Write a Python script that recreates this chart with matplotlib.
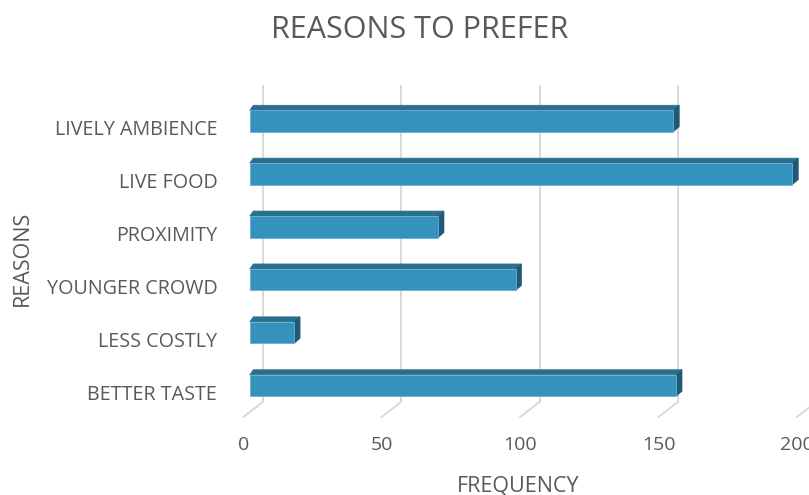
import matplotlib.pyplot as plt
from matplotlib.patches import Polygon
from matplotlib.transforms import ScaledTranslation

# data (bottom to top)
reasons = ["BETTER TASTE", "LESS COSTLY", "YOUNGER CROWD", "PROXIMITY",
           "LIVE FOOD", "LIVELY AMBIENCE"]
frequency = [154, 16, 96, 68, 196, 153]
ticks = [0, 50, 100, 150, 200]

TEXT = "#595959"
FRONT = "#3492BC"
TOP = "#2A6F8F"
SIDE = "#1E5A75"
GRID = "#D9D9D9"

plt.rcParams["font.family"] = ["Open Sans", "DejaVu Sans"]

W, H = 809, 495
fig = plt.figure(figsize=(W / 100, H / 100), dpi=100)

# pixel layout of the plot area
PX_UNIT = 2.8           # px per frequency unit
Y_UNIT = 52.9           # px per category
x0_px = 243.3           # front face of bars starts here
y0_px = 385.5           # centre of bottom category
floor_front_px = 417
top_grid_px = 85
ylim = ((y0_px - floor_front_px) / Y_UNIT, (y0_px - top_grid_px) / Y_UNIT)
xmax = (W - x0_px) / PX_UNIT

ax = fig.add_axes([x0_px / W, 1 - floor_front_px / H, (W - x0_px) / W,
                   (floor_front_px - top_grid_px) / H])
ax.set_xlim(0, xmax)
ax.set_ylim(*ylim)
for s in ax.spines.values():
    s.set_visible(False)

# 3d offsets in data units
BACK = 13.4 / PX_UNIT
FLOOR = -6.6 / PX_UNIT
DXL = 3.5 / PX_UNIT
DX = 6 / PX_UNIT
DY = 5 / Y_UNIT
y_floor_back = (y0_px - 401.7) / Y_UNIT
y_floor_front = ylim[0]
bar_h = 21.5 / Y_UNIT

# back wall gridlines + floor ticks
for t in ticks:
    ax.plot([t + BACK, t + BACK], [ylim[1], y_floor_back], color=GRID, lw=1.4,
            zorder=0, solid_capstyle="butt")
    ax.plot([t + BACK, t + FLOOR], [y_floor_back, y_floor_front], color=GRID,
            lw=1.4, zorder=0, clip_on=False)

# 3d bars
for i, v in enumerate(frequency):
    yb, yt = i - bar_h / 2, i + bar_h / 2
    ax.add_patch(Polygon([(0, yt), (DXL, yt + DY), (v + DX, yt + DY), (v, yt)],
                         closed=True, facecolor=TOP, edgecolor=TOP, lw=0.5, zorder=2))
    ax.add_patch(Polygon([(v, yb), (v + DX, yb + DY), (v + DX, yt + DY), (v, yt)],
                         closed=True, facecolor=SIDE, edgecolor=SIDE, lw=0.5, zorder=2))
ax.barh(range(len(reasons)), frequency, height=bar_h, color=FRONT,
        edgecolor="#6AAFD0", linewidth=0.6, zorder=3)

ax.set_yticks(range(len(reasons)))
ax.set_yticklabels(reasons, fontsize=14.2, color=TEXT)
ax.set_xticks([t + FLOOR for t in ticks])
ax.set_xticklabels([str(t) for t in ticks], fontsize=14, color=TEXT)
ax.tick_params(axis="both", length=0)
ax.tick_params(axis="y", pad=18.7)
ax.tick_params(axis="x", pad=14)
# category labels sit a little below the bar centres
shift = ScaledTranslation(0, -6.5 / 100, fig.dpi_scale_trans)
for lab in ax.get_yticklabels():
    lab.set_transform(lab.get_transform() + shift)

fig.text(420 / W, 1 - 30 / H, "REASONS TO PREFER", ha="center", va="center",
         fontsize=22, color=TEXT)
fig.text(22 / W, 1 - 258 / H, "REASONS", ha="center", va="center",
         rotation=90, fontsize=15.5, color=TEXT)
fig.text(518 / W, 1 - 486 / H, "FREQUENCY", ha="center", va="center",
         fontsize=15.5, color=TEXT)

fig.savefig("out.png", dpi=100)
